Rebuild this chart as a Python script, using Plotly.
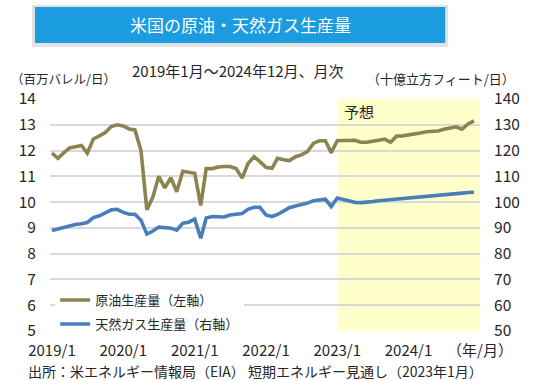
import plotly.graph_objects as go
import pandas as pd

months = pd.date_range("2019-01-01", periods=72, freq="MS")

oil = [11.9, 11.7, 11.9, 12.1, 12.15, 12.2, 11.9, 12.45, 12.57, 12.7, 12.93, 13.0,
       12.95, 12.84, 12.8, 12.0, 9.7, 10.2, 11.0, 10.55, 10.95, 10.4, 11.2, 11.15,
       11.12, 9.87, 11.3, 11.3, 11.36, 11.38, 11.38, 11.3, 10.93, 11.5, 11.76, 11.57,
       11.35, 11.31, 11.7, 11.64, 11.61, 11.76, 11.83, 11.96, 12.28, 12.38, 12.38, 11.92,
       12.38, 12.39, 12.40, 12.40, 12.32, 12.32, 12.36, 12.41, 12.44, 12.32, 12.56, 12.57,
       12.60, 12.64, 12.68, 12.73, 12.73, 12.76, 12.83, 12.89, 12.92, 12.83, 13.03, 13.15]

gas = [89.0, 89.6, 90.2, 90.8, 91.3, 91.6, 92.1, 94.0, 94.7, 95.8, 97.0, 97.2,
       96.0, 95.3, 95.3, 93.0, 87.6, 88.8, 90.3, 90.1, 89.9, 89.1, 91.8, 92.2,
       93.4, 86.0, 93.8, 94.4, 94.2, 94.2, 95.0, 95.2, 95.6, 97.2, 98.0, 98.0,
       95.0, 94.4, 95.2, 96.5, 97.8, 98.5, 98.9, 99.6, 100.5, 100.9, 101.1, 98.3,
       101.6, 101.0, 100.5, 99.9, 99.8, 99.9, 100.2, 100.5, 100.7, 100.9, 101.1, 101.3,
       101.5, 101.6, 101.8, 102.0, 102.3, 102.6, 102.8, 103.0, 103.3, 103.5, 103.7, 103.8]

tick_vals = ["2019-01-01", "2020-01-01", "2021-01-01", "2022-01-01", "2023-01-01", "2024-01-01", "2025-01-01"]
tick_text = ["2019/1", "2020/1", "2021/1", "2022/1", "2023/1", "2024/1", "（年/月）"]
forecast_start = "2023-01-01"
forecast_end = "2025-01-01"

FONT = "Noto Sans CJK JP"
TXT = "#262626"

fig = go.Figure()
fig.add_trace(go.Scatter(x=months, y=oil, mode="lines", name="原油生産量（左軸）",
                         line=dict(color="#8C8450", width=3.6), legendgroup="a", yaxis="y"))
fig.add_trace(go.Scatter(x=months, y=gas, mode="lines", name="天然ガス生産量（右軸）",
                         line=dict(color="#4A7EBB", width=3.6), legendgroup="b", yaxis="y2"))

fig.add_shape(type="rect", xref="x", yref="paper", x0=forecast_start, x1=forecast_end,
              y0=0, y1=1, fillcolor="#FFFFCC", line=dict(width=0), layer="below")

# title banner
fig.add_shape(type="rect", xref="paper", yref="paper", x0=-0.042, x1=0.926, y0=1.224, y1=1.405,
              fillcolor="#E3E3E3", line=dict(width=0), layer="above")
fig.add_shape(type="rect", xref="paper", yref="paper", x0=-0.035, x1=0.919, y0=1.241, y1=1.397,
              fillcolor="#1B9BE0", line=dict(width=0), layer="above")

annos = [
    dict(text="米国の原油・天然ガス生産量", x=0.442, y=1.319, font=dict(size=17, color="white", family=FONT),
         xanchor="center", yanchor="middle"),
    dict(text="2019年1月～2024年12月、月次", x=0.437, y=1.125, font=dict(size=15, color=TXT, family=FONT),
         xanchor="center", yanchor="middle"),
    dict(text="（百万バレル/日）", x=-0.095, y=1.087, font=dict(size=12.5, color=TXT, family=FONT),
         xanchor="left", yanchor="middle"),
    dict(text="（十億立方フィート/日）", x=1.085, y=1.087, font=dict(size=13, color=TXT, family=FONT),
         xanchor="right", yanchor="middle"),
    dict(text="予想", x=0.68, y=0.944, font=dict(size=15, color=TXT, family=FONT),
         xanchor="left", yanchor="middle"),
    dict(text="出所：米エネルギー情報局（EIA） 短期エネルギー見通し（2023年1月）", x=-0.056, y=-0.174,
         font=dict(size=14, color=TXT, family=FONT), xanchor="left", yanchor="middle"),
]
for a in annos:
    fig.add_annotation(xref="paper", yref="paper", showarrow=False, **a)

fig.update_layout(
    width=540, height=381,
    margin=dict(l=50, r=60, t=99, b=50),
    paper_bgcolor="white", plot_bgcolor="white",
    font=dict(family=FONT, color=TXT),
    showlegend=True,
    legend=dict(x=0.012, y=-0.035, xanchor="left", yanchor="bottom", bgcolor="white",
                font=dict(size=13, family=FONT, color=TXT), tracegroupgap=4,
                traceorder="grouped", itemwidth=30),
    xaxis=dict(type="date", range=["2018-12-22", "2025-01-01"], tickvals=tick_vals, ticktext=tick_text,
               showgrid=False, ticks="outside", ticklen=6, tickcolor="rgba(0,0,0,0)",
               tickfont=dict(size=15, family=FONT, color=TXT), showline=False, zeroline=False),
    yaxis=dict(range=[5, 14], dtick=1, showgrid=True, gridcolor="#D9D9D9", gridwidth=1.5,
               ticks="outside", ticklen=10, tickcolor="rgba(0,0,0,0)",
               tickfont=dict(size=15.5, family=FONT, color=TXT), zeroline=False),
    yaxis2=dict(range=[50, 140], dtick=10, overlaying="y", side="right", showgrid=False,
                ticks="outside", ticklen=10, tickcolor="rgba(0,0,0,0)",
                tickfont=dict(size=15.5, family=FONT, color=TXT), zeroline=False),
)

fig.write_html("out.html", config={"displayModeBar": False},
               post_script="document.body.style.margin='0';document.body.style.padding='0';")
